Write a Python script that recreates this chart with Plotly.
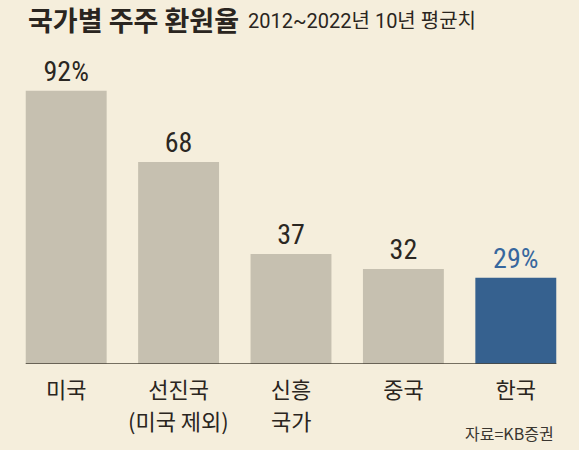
import plotly.graph_objects as go

category_line1 = ["미국", "선진국", "신흥", "중국", "한국"]
category_line2 = ["", "(미국 제외)", "국가", "", ""]
values = [92, 68, 37, 32, 29]
value_labels = ["92%", "68", "37", "32", "29%"]
bar_colors = ["#C6C0B0", "#C6C0B0", "#C6C0B0", "#C6C0B0", "#36618F"]
label_colors = ["#2B2722", "#2B2722", "#2B2722", "#2B2722", "#37679E"]

TITLE = "국가별 주주 환원율"
SUBTITLE = "2012~2022년 10년 평균치"
SOURCE = "자료=KB증권"

BAR_W = 0.72
BG = "#F5EEDC"
W, H = 579, 450
ML, MR, MT, MB = 10, 7, 67, 86
TXT = "#2A2520"

n = len(category_line1)
xs = list(range(n))
plot_w = W - ML - MR
plot_h = H - MT - MB


def px_x(px):
    return (px - ML) / plot_w


def px_y(py):
    return (H - MB - py) / plot_h


fig = go.Figure()
fig.add_trace(go.Bar(
    x=xs,
    y=values,
    width=BAR_W,
    marker=dict(color=bar_colors, line=dict(width=0)),
    text=value_labels,
    textposition="outside",
    textfont=dict(family="Roboto Condensed, DejaVu Sans Condensed, Liberation Sans Narrow, Roboto", size=28, color=label_colors),
    cliponaxis=False,
    hoverinfo="skip",
))

fig.add_shape(type="line", xref="x", yref="y",
              x0=-BAR_W / 2, x1=n - 1 + BAR_W / 2, y0=0, y1=0,
              line=dict(color="#4A4538", width=1.5))

for i, t in enumerate(category_line2):
    if t:
        fig.add_annotation(text=t, xref="x", yref="paper", x=xs[i],
                           y=px_y(420), xanchor="center", yanchor="middle",
                           showarrow=False,
                           font=dict(family="Noto Sans CJK KR", size=22, color=TXT))

fig.add_annotation(text="<b>" + TITLE + "</b>", xref="paper", yref="paper",
                   x=px_x(26), y=px_y(19), xanchor="left", yanchor="middle",
                   showarrow=False,
                   font=dict(family="Noto Sans CJK KR", size=27, color=TXT))
fig.add_annotation(text=SUBTITLE, xref="paper", yref="paper",
                   x=px_x(246), y=px_y(21), xanchor="left", yanchor="middle",
                   showarrow=False,
                   font=dict(family="Roboto, Noto Sans CJK KR", size=20, color=TXT))

fig.add_annotation(text=SOURCE, xref="paper", yref="paper",
                   x=px_x(556), y=px_y(433),
                   xanchor="right", yanchor="middle", showarrow=False,
                   font=dict(family="Noto Sans CJK KR", size=16, color="#3A3630"))

fig.update_layout(
    width=W, height=H,
    margin=dict(l=ML, r=MR, t=MT, b=MB),
    paper_bgcolor=BG, plot_bgcolor=BG,
    showlegend=False,
    xaxis=dict(
        range=[-0.5, n - 0.5],
        tickmode="array", tickvals=xs, ticktext=category_line1,
        tickfont=dict(family="Noto Sans CJK KR", size=22, color=TXT),
        ticklabelstandoff=11,
        showgrid=False, zeroline=False, showline=False, ticks="",
        fixedrange=True,
    ),
    yaxis=dict(range=[0, 100], visible=False, fixedrange=True),
    bargap=0.28,
)

fig.write_html("out.html")
